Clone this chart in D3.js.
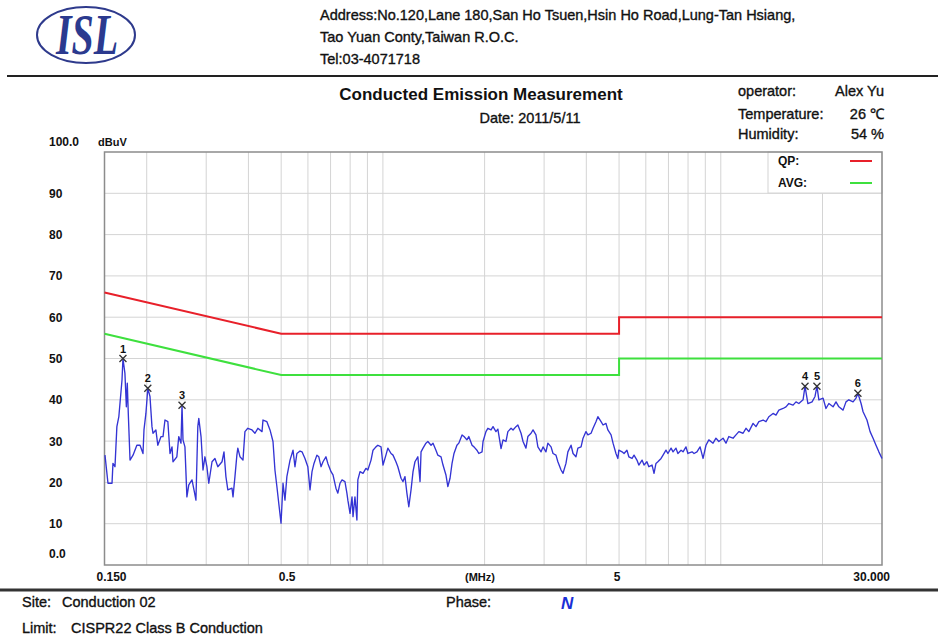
<!DOCTYPE html>
<html>
<head>
<meta charset="utf-8">
<script src="https://cdn.jsdelivr.net/npm/d3@7"></script>
<style>
  body { margin: 0; background: #fff; }
  text { font-family: "Liberation Sans", Arial, sans-serif; fill: #111; }
  .heavy { stroke: #111; stroke-width: 0.35px; }
</style>
</head>
<body>
<div id="my_dataviz"></div>
<script>
// measured trace (MHz / dBuV)
var traceFreq = [
  0.1505,0.1536,0.1579,0.1589,0.1611,0.1632,0.1654,0.1690,0.1701,0.1724,0.1741,0.1752,0.1764,0.1785,0.1822,
  0.1870,0.1911,0.1950,0.1963,0.1989,0.2015,0.2045,0.2073,0.2087,0.2129,0.2157,0.2205,0.2235,0.2265,0.2310,
  0.2344,0.2376,0.2392,0.2456,0.2488,0.2526,0.2544,0.2561,0.2595,0.2630,0.2664,0.2723,0.2760,0.2797,0.2833,
  0.2852,0.2896,0.2935,0.2974,0.3014,0.3053,0.3121,0.3184,0.3247,0.3341,0.3386,0.3431,0.3476,0.3576,0.3601,
  0.3649,0.3697,0.3721,0.3777,0.3854,0.3906,0.3983,0.4099,0.4182,0.4266,0.4388,0.4417,0.4536,0.4634,0.4729,
  0.4792,0.4856,0.4919,0.4995,0.5063,0.5131,0.5198,0.5311,0.5420,0.5493,0.5565,0.5685,0.5763,0.5880,0.5996,
  0.6086,0.6169,0.6253,0.6378,0.6461,0.6560,0.6649,0.6783,0.6872,0.7023,0.7118,0.7262,0.7357,0.7467,0.7569,
  0.7722,0.7825,0.7876,0.7994,0.8103,0.8158,0.8267,0.8377,0.8431,0.8557,0.8733,0.8908,0.9025,0.9224,0.9349,
  0.9537,0.9662,0.9874,1.0008,1.0209,1.0344,1.0571,1.0714,1.0930,1.1073,1.1316,1.1470,1.1624,1.1777,1.1931,
  1.2114,1.2279,1.2443,1.2690,1.2881,1.2969,1.3145,1.3409,1.3586,1.3883,1.4072,1.4355,1.4543,1.4862,1.5064,
  1.5367,1.5569,1.5803,1.6019,1.6235,1.6560,1.6776,1.7149,1.7380,1.7727,1.7958,1.8358,1.8606,1.8978,1.9226,
  1.9653,1.9786,2.0184,2.0449,2.0897,2.1181,2.1607,2.1891,2.2371,2.2675,2.3131,2.3435,2.3949,2.4274,2.4762,
  2.5088,2.5638,2.5986,2.6509,2.6858,2.7446,2.7819,2.8379,2.8752,2.9382,2.9781,3.0380,3.0779,3.1454,3.1882,
  3.2523,3.2950,3.3673,3.4130,3.4817,3.5275,3.6048,3.6538,3.7272,3.7762,3.8590,3.9115,3.9901,4.0426,4.1312,
  4.1874,4.2716,4.3277,4.4226,4.4826,4.5727,4.6328,4.7345,4.7988,4.8953,4.9597,4.992,5.1029,5.1718,5.2750,
  5.3439,5.4628,5.5365,5.6471,5.7208,5.8481,5.9270,6.0454,6.1243,6.2605,6.3450,6.4295,6.5139,6.6568,6.7473,
  6.8830,6.9734,7.1264,7.2232,7.3684,7.4652,7.6290,7.7326,7.8881,7.9918,8.2225,8.3334,8.5000,8.6837,8.8619,
  9.0401,9.2183,9.4869,9.6777,9.8684,10.156,10.360,10.564,10.872,11.091,11.310,11.639,11.873,12.107,12.460,
  12.711,12.961,13.339,13.607,13.875,14.280,14.567,14.854,15.287,15.594,15.902,16.365,16.694,17.023,17.519,
  17.754,18.106,18.629,19.006,19.257,19.509,20.078,20.481,20.885,21.494,21.926,22.358,23.010,23.472,23.935,
  24.633,25.128,25.458,26.016,26.370,27.077,27.662,28.230,28.797,29.365,30.000
];
var traceLevel = [
  26.6,19.8,19.8,24.6,23.8,33.5,35.9,44.8,50.0,46.4,38.3,44.0,36.7,25.4,26.6,
  29.0,29.0,27.0,32.7,36.7,42.8,40.8,33.5,31.9,32.7,29.0,31.1,31.1,35.1,34.7,
  27.0,28.6,25.0,26.2,31.1,29.5,38.7,30.3,28.6,16.5,19.4,20.6,18.2,15.7,33.5,
  35.5,31.1,23.0,26.2,23.8,19.8,25.0,25.8,23.8,25.0,27.4,21.4,18.2,18.6,16.5,
  21.4,26.6,28.3,26.2,25.4,32.3,33.1,32.7,31.9,33.1,32.3,35.1,34.7,32.7,29.9,
  23.0,19.0,14.9,10.1,19.8,15.7,21.4,25.4,27.8,23.8,27.0,27.6,27.4,25.8,23.8,
  18.2,22.6,24.6,26.6,26.2,23.8,25.0,26.2,24.6,22.6,21.8,18.6,17.4,19.8,20.6,
  20.2,17.4,15.7,12.5,16.5,11.7,16.5,10.9,20.6,22.6,22.2,23.4,23.0,25.4,27.8,
  28.6,29.0,28.6,24.2,26.6,28.3,27.0,26.6,25.0,23.8,21.0,20.2,21.4,17.4,14.1,
  18.2,22.6,25.0,26.2,20.2,27.4,28.3,29.5,29.9,29.0,29.5,27.8,26.6,26.2,24.2,
  21.8,19.0,21.0,24.6,27.0,29.0,29.5,31.5,31.1,30.3,31.1,29.0,28.6,27.8,27.0,
  27.4,29.9,32.3,33.1,32.7,33.5,32.3,32.9,28.2,30.3,29.9,32.3,33.1,32.7,33.5,
  33.9,31.9,29.9,28.3,31.1,31.9,32.7,31.5,28.6,27.4,28.6,27.4,29.5,28.6,27.0,
  26.6,25.0,23.0,22.2,24.6,27.4,29.0,27.0,26.2,28.3,28.6,30.7,32.3,31.5,31.9,
  33.1,34.7,35.9,34.7,33.9,34.3,32.7,31.5,29.5,27.0,25.8,27.8,27.4,27.0,27.8,
  26.2,25.8,26.6,25.4,24.2,25.4,24.2,25.0,23.8,24.2,22.2,24.6,25.0,25.8,26.6,
  27.8,27.0,28.3,27.4,28.3,27.0,27.8,27.4,28.6,27.0,27.4,27.0,27.4,28.6,25.8,
  29.0,30.3,29.5,30.7,29.9,30.7,29.5,31.1,30.7,31.5,32.3,31.9,33.1,32.3,34.3,
  33.5,34.7,35.1,34.7,35.9,36.7,36.3,37.5,37.9,38.3,39.1,38.7,39.5,39.1,40.0,
  43.3,39.1,39.5,40.8,43.3,40.0,40.4,37.9,39.1,38.3,39.5,38.3,37.5,39.5,40.0,
  39.5,40.4,41.6,39.1,37.1,35.1,32.3,30.7,29.0,27.4,25.8
];

// CISPR22 class B limits
var limitFreq = [0.15, 0.5, 5, 5, 30];
var qpLimit   = [66, 56, 56, 60, 60];
var avgLimit  = [56, 46, 46, 50, 50];

// peak markers
var markerNo    = ["1", "2", "3", "4", "5", "6"];
var markerFreq  = [0.1701, 0.2015, 0.2544, 17.754, 19.257, 25.458];
var markerLevel = [50.0, 42.8, 38.7, 43.3, 43.3, 41.6];

// axes
var gridFreq = [0.2,0.3,0.4,0.5,0.6,0.7,0.8,0.9,1,2,3,4,5,6,7,8,9,10,20];
var xTickVals = [0.15, 0.5, 5, 30];
var xTickText = ["0.150", "0.5", "5", "30.000"];
var yTickVals = [0, 10, 20, 30, 40, 50, 60, 70, 80, 90, 100];
var yTickText = ["0.0", "10", "20", "30", "40", "50", "60", "70", "80", "90", "100.0"];

var width = 938, height = 642;
var plot = {left: 104.5, right: 882, top: 152, bottom: 565};

var svg = d3.select("#my_dataviz").append("svg")
    .attr("width", width)
    .attr("height", height);

var x = d3.scaleLog().domain([0.15, 30]).range([plot.left, plot.right]);
var y = d3.scaleLinear().domain([0, 100]).range([plot.bottom, plot.top]);

// ---- header ----
svg.append("ellipse")
    .attr("cx", 86).attr("cy", 35).attr("rx", 49).attr("ry", 28)
    .style("fill", "none").style("stroke", "#2e3a8c").style("stroke-width", 2);
svg.append("text")
    .attr("transform", "translate(87,54) scale(1,1.42)")
    .attr("text-anchor", "middle")
    .style("font-family", "'Liberation Serif', 'Times New Roman', serif")
    .style("font-weight", "bold").style("font-style", "italic")
    .style("font-size", "40px").style("fill", "#2b3a8f")
    .text("ISL");

var addr = ["Address:No.120,Lane 180,San Ho Tsuen,Hsin Ho Road,Lung-Tan Hsiang,",
            "Tao Yuan Conty,Taiwan R.O.C.",
            "Tel:03-4071718"];
svg.selectAll(".addr").data(addr).enter().append("text")
    .attr("class", "addr heavy")
    .attr("x", 320).attr("y", function(d, i) { return 20 + i * 22; })
    .style("font-size", "14.5px")
    .text(function(d) { return d; });

svg.append("line").attr("x1", 7).attr("x2", 938).attr("y1", 76).attr("y2", 76)
    .style("stroke", "#222").style("stroke-width", 2);

svg.append("text").attr("x", 481).attr("y", 100).attr("text-anchor", "middle")
    .style("font-size", "17px").style("font-weight", "bold")
    .text("Conducted Emission Measurement");
svg.append("text").attr("class", "heavy").attr("x", 530).attr("y", 123).attr("text-anchor", "middle")
    .style("font-size", "14.5px")
    .text("Date: 2011/5/11");

var infoL = ["operator:", "Temperature:", "Humidity:"];
var infoR = ["Alex Yu", "26 \u2103", "54 %"];
svg.selectAll(".infoL").data(infoL).enter().append("text")
    .attr("class", "heavy")
    .attr("x", 738).attr("y", function(d, i) { return [96, 119, 139][i]; })
    .style("font-size", "14.5px").text(function(d) { return d; });
svg.selectAll(".infoR").data(infoR).enter().append("text")
    .attr("class", "heavy")
    .attr("x", 884).attr("y", function(d, i) { return [96, 119, 139][i]; })
    .attr("text-anchor", "end")
    .style("font-size", "14.5px").text(function(d) { return d; });

// ---- plot area ----
var g = svg.append("g");

g.selectAll(".hgrid").data(yTickVals.slice(1, -1)).enter().append("line")
    .attr("x1", plot.left).attr("x2", plot.right)
    .attr("y1", function(d) { return y(d); }).attr("y2", function(d) { return y(d); })
    .style("stroke", "#d4d4d4").style("stroke-width", 1);
g.selectAll(".vgrid").data(gridFreq).enter().append("line")
    .attr("x1", function(d) { return x(d); }).attr("x2", function(d) { return x(d); })
    .attr("y1", plot.top).attr("y2", plot.bottom)
    .style("stroke", "#d4d4d4").style("stroke-width", 1);

// legend box (covers grid)
g.append("rect").attr("x", 768).attr("y", plot.top).attr("width", plot.right - 768).attr("height", 41)
    .style("fill", "#fff").style("stroke", "#d4d4d4");
g.append("text").attr("x", 778).attr("y", 165).style("font-size", "12px").style("font-weight", "bold").text("QP:");
g.append("text").attr("x", 778).attr("y", 187).style("font-size", "12px").style("font-weight", "bold").text("AVG:");
g.append("line").attr("x1", 850).attr("x2", 872).attr("y1", 161).attr("y2", 161)
    .style("stroke", "#e8202a").style("stroke-width", 2);
g.append("line").attr("x1", 850).attr("x2", 872).attr("y1", 183).attr("y2", 183)
    .style("stroke", "#3ee03e").style("stroke-width", 2);

g.append("rect").attr("x", plot.left).attr("y", plot.top)
    .attr("width", plot.right - plot.left).attr("height", plot.bottom - plot.top)
    .style("fill", "none").style("stroke", "#8c8c8c").style("stroke-width", 1.5);

var lineGen = d3.line()
    .x(function(d) { return x(d[0]); })
    .y(function(d) { return y(d[1]); });

g.append("path")
    .datum(limitFreq.map(function(f, i) { return [f, qpLimit[i]]; }))
    .attr("d", lineGen)
    .style("fill", "none").style("stroke", "#e8202a").style("stroke-width", 2);
g.append("path")
    .datum(limitFreq.map(function(f, i) { return [f, avgLimit[i]]; }))
    .attr("d", lineGen)
    .style("fill", "none").style("stroke", "#3ee03e").style("stroke-width", 2);

g.append("path")
    .datum(traceFreq.map(function(f, i) { return [f, traceLevel[i]]; }))
    .attr("d", lineGen)
    .style("fill", "none").style("stroke", "#3434d4").style("stroke-width", 1.35)
    .style("stroke-linejoin", "round");

// markers
var mk = g.selectAll(".marker").data(markerNo).enter().append("g")
    .attr("transform", function(d, i) { return "translate(" + x(markerFreq[i]) + "," + y(markerLevel[i]) + ")"; });
mk.append("path").attr("d", "M-3.5,-3.5L3.5,3.5M-3.5,3.5L3.5,-3.5")
    .style("stroke", "#333").style("stroke-width", 1.3);
mk.append("text").attr("y", -6).attr("text-anchor", "middle")
    .style("font-size", "11px").style("font-weight", "bold")
    .text(function(d) { return d; });

// y labels
svg.selectAll(".ylab").data(yTickVals).enter().append("text")
    .attr("x", 49)
    .attr("y", function(d) { return y(d) + 4.5 - (d == 0 ? 12 : 0) - (d == 100 ? 11 : 0); })
    .style("font-size", "12px").style("font-weight", "bold")
    .text(function(d, i) { return yTickText[i]; });
svg.append("text").attr("x", 98).attr("y", 145.5)
    .style("font-size", "11px").style("font-weight", "bold").text("dBuV");

// x labels
var xAnchor = ["start", "middle", "middle", "end"];
var xShift = [-8, 6, -2, 8];
svg.selectAll(".xlab").data(xTickVals).enter().append("text")
    .attr("x", function(d, i) { return x(d) + xShift[i]; })
    .attr("y", 580.5)
    .attr("text-anchor", function(d, i) { return xAnchor[i]; })
    .style("font-size", "12px").style("font-weight", "bold")
    .text(function(d, i) { return xTickText[i]; });
svg.append("text").attr("x", 480).attr("y", 580.5).attr("text-anchor", "middle")
    .style("font-size", "11px").style("font-weight", "bold").text("(MHz)");

// ---- footer ----
svg.append("line").attr("x1", 0).attr("x2", 938).attr("y1", 590).attr("y2", 590)
    .style("stroke", "#333").style("stroke-width", 3);
svg.append("text").attr("class", "heavy").attr("x", 22).attr("y", 607).style("font-size", "14.5px").text("Site:");
svg.append("text").attr("class", "heavy").attr("x", 62).attr("y", 607).style("font-size", "14.5px").text("Conduction 02");
svg.append("text").attr("class", "heavy").attr("x", 446).attr("y", 607).style("font-size", "14.5px").text("Phase:");
svg.append("text").attr("x", 561).attr("y", 609)
    .style("font-size", "17px").style("font-weight", "bold").style("font-style", "italic")
    .style("fill", "#1a2fd6").text("N");
svg.append("text").attr("class", "heavy").attr("x", 22).attr("y", 633).style("font-size", "14.5px").text("Limit:");
svg.append("text").attr("class", "heavy").attr("x", 71).attr("y", 633).style("font-size", "14.5px").text("CISPR22 Class B Conduction");
</script>
</body>
</html>
